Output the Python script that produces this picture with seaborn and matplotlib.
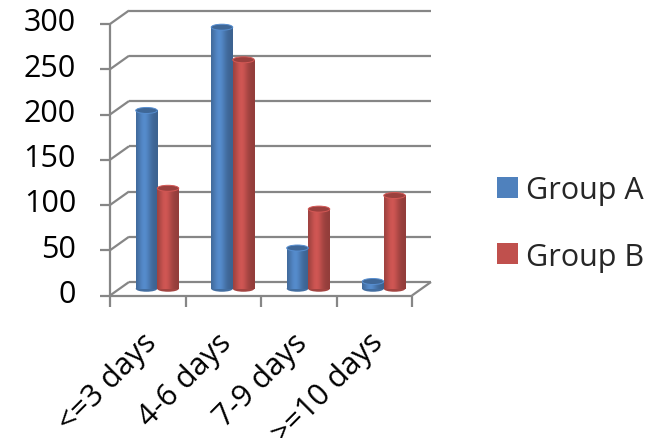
import numpy as np
import pandas as pd
import seaborn as sns
import matplotlib.pyplot as plt
from matplotlib.patches import Ellipse, Patch
from matplotlib.colors import to_rgb

categories = ["<=3 days", "4-6 days", "7-9 days", ">=10 days"]
series = ["Group A", "Group B"]
group_a = [197, 289, 45, 8]
group_b = [111, 253, 88, 103]
y_ticks = [0, 50, 100, 150, 200, 250, 300]
palette = {"Group A": "#4F81BD", "Group B": "#C0504D"}

df = pd.DataFrame({
    "Duration": categories * 2,
    "Count": group_a + group_b,
    "Group": [series[0]] * len(categories) + [series[1]] * len(categories),
})

W, H = 662, 439
sns.set_style("white")
plt.rcParams["font.family"] = ["Open Sans", "DejaVu Sans"]
FS = 22
GRID = "#868686"
LW = 1.6

fig = plt.figure(figsize=(W / 100, H / 100), dpi=100)
# axes = the mid-depth plane where the cylinders stand
ax_l, ax_b, ax_w, ax_h = 119.5, 149.25, 302.0, 271.5
ax = fig.add_axes([ax_l / W, ax_b / H, ax_w / W, ax_h / H])

sns.barplot(data=df, x="Duration", y="Count", hue="Group", palette=palette,
            width=0.57, saturation=1, legend=False, ax=ax, zorder=3)
ax.set_xlim(-0.5, 3.5)
ax.set_ylim(0, 300)
ax.axis("off")

# conversion from pixels to data units
px_x = 4.0 / ax_w
px_y = 300.0 / ax_h
dx = 9.5 * px_x      # half depth of the box, horizontally
dy = 6.75 * px_y     # half depth of the box, vertically

line_kw = dict(color=GRID, lw=LW, clip_on=False, zorder=1, solid_capstyle="butt")

# back wall gridlines and side diagonals
for v in y_ticks:
    ax.plot([-0.5 + dx, 3.5 + dx], [v + dy, v + dy], **line_kw)
    ax.plot([-0.5 - dx, -0.5 + dx], [v - dy, v + dy], **line_kw)
    ax.plot([-0.5 - dx - 10 * px_x, -0.5 - dx], [v - dy, v - dy], **line_kw)
    ax.text(-0.5 - dx - 34 * px_x, v - dy + 1.5 * px_y, str(v), ha="right", va="center",
            fontsize=FS, color="black", clip_on=False)

# front vertical axis
ax.plot([-0.5 - dx, -0.5 - dx], [-dy, 300 - dy], **line_kw)
# floor front edge and right diagonal
ax.plot([-0.5 - dx, 3.5 - dx], [-dy, -dy], **line_kw)
ax.plot([3.5 - dx, 3.5 + dx], [-dy, dy], **line_kw)
# category ticks below the floor
for i in range(len(categories) + 1):
    xt = -0.5 + i - dx
    ax.plot([xt, xt], [-dy, -dy - 11 * px_y], **line_kw)

# category labels
for i, cat in enumerate(categories):
    ax.text(i - dx + 4 * px_x, -dy - 42 * px_y, cat, rotation=45,
            rotation_mode="anchor", ha="right", va="center",
            fontsize=FS, color="black", clip_on=False)

# cylinder shading on top of each bar
t = np.linspace(0, 1, 64)
shade = 0.76 + 0.32 * np.exp(-((t - 0.38) / 0.3) ** 2)
cap_h = 6.0 * px_y
for bar in list(ax.patches):
    x0, w, h = bar.get_x(), bar.get_width(), bar.get_height()
    base = np.array(to_rgb(bar.get_facecolor()))
    grad = np.clip(base[None, None, :] * shade[None, :, None], 0, 1)
    bar.set_visible(False)
    ax.add_patch(Ellipse((x0 + w / 2, 0), w, cap_h,
                         facecolor=base * 0.85, edgecolor="none", zorder=3, clip_on=False))
    ax.imshow(grad, extent=(x0, x0 + w, 0, h), aspect="auto", zorder=4,
              interpolation="bilinear", clip_on=False)
    ax.add_patch(Ellipse((x0 + w / 2, h), w, cap_h,
                         facecolor=base * 0.8, edgecolor=np.clip(base * 1.1, 0, 1),
                         lw=0.7, zorder=5, clip_on=False))

ax.set_xlim(-0.5, 3.5)
ax.set_ylim(0, 300)

handles = [Patch(facecolor=palette[s], edgecolor="none") for s in series]
fig.legend(handles, series, loc="upper left", bbox_to_anchor=(497 / W, 1 - 176 / H),
           frameon=False, fontsize=FS, handlelength=0.68, handleheight=0.68,
           handletextpad=0.28, labelspacing=1.2, borderaxespad=0, borderpad=0)

fig.savefig("out.png", dpi=100)
